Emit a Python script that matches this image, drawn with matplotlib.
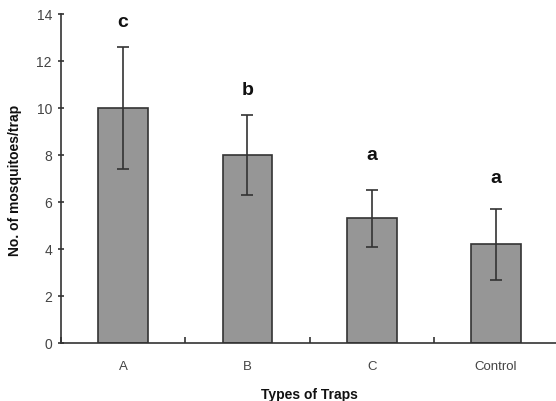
import matplotlib
matplotlib.use("Agg")
import matplotlib.pyplot as plt
import numpy as np

plt.rcParams['font.family'] = ['Liberation Sans', 'DejaVu Sans']

categories = ["A", "B", "C", "Control"]
means = [10.0, 8.0, 5.3, 4.2]
errors = [2.6, 1.7, 1.2, 1.5]
letters = ["c", "b", "a", "a"]
letter_y = [13.7, 10.8, 8.0, 7.05]

fig = plt.figure(figsize=(5.56, 4.02), dpi=100)
ax = fig.add_axes([0.1097, 0.1443, 0.8940, 0.8184])

x = np.arange(len(categories))
ax.bar(x, means, width=0.4, color="#969696", edgecolor="#333333", linewidth=1.2, zorder=2)
ax.errorbar(x, means, yerr=errors, fmt="none", ecolor="#333333", elinewidth=1.2,
            capsize=4, capthick=1.2, zorder=3)
for xi, lt, ly in zip(x, letters, letter_y):
    ax.text(xi, ly, lt, ha="center", va="center", fontsize=14, fontweight="bold", color="#111111")

ax.set_xlim(-0.5, 3.5)
ax.set_ylim(0, 14)
ax.set_yticks(np.arange(0, 15, 2))
ax.set_xticks(x)
ax.set_xticklabels(categories, fontsize=9.5, color="#444444")
ax.set_xticks(np.arange(-0.5, 4.0, 1.0), minor=True)
ax.tick_params(axis="x", which="major", length=0, pad=12)
ax.tick_params(axis="x", which="minor", length=4, width=1.2, direction="in", color="#333333")
ax.tick_params(axis="y", length=5, width=1.2, direction="inout", color="#333333",
               labelsize=10, labelcolor="#444444", pad=4)

for s in ["top", "right"]:
    ax.spines[s].set_visible(False)
for s in ["left", "bottom"]:
    ax.spines[s].set_color("#333333")
    ax.spines[s].set_linewidth(1.2)

fig.text(15 / 556, (402 - 180) / 402, "No. of mosquitoes/trap", rotation=90,
         ha="center", va="center", fontsize=10, fontweight="bold", color="#111111")
fig.text(309 / 556, 1 - 395 / 402, "Types of Traps", ha="center", va="center",
         fontsize=10, fontweight="bold", color="#111111")

fig.savefig("out.png", dpi=100)
